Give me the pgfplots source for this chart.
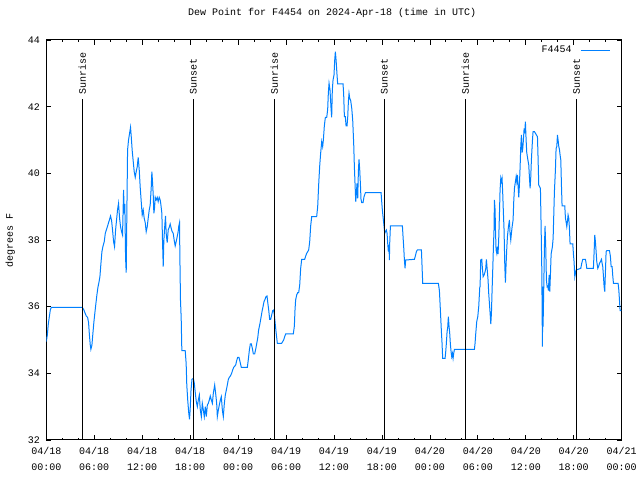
\documentclass[border=0pt]{standalone}
\usepackage{fontspec}
\setmainfont{Liberation Mono}
\usepackage{pgfplots}
\pgfplotsset{compat=1.18}
\definecolor{dew}{RGB}{0,128,255}
\begin{document}
\fontsize{10bp}{12bp}\selectfont
\begin{tikzpicture}
\useasboundingbox (-46.3bp,-40bp) rectangle (593.7bp,440bp);
\begin{axis}[
  at={(0,0)}, anchor=south west,
  scale only axis, width=575.4bp, height=400bp,
  xmin=0, xmax=72, ymin=32, ymax=44,
  xtick={0,6,...,72},
  minor x tick num=2,
  ytick={32,34,...,44},
  xtick pos=both, ytick pos=both,
  tick align=inside,
  major tick length=5bp, minor tick length=2.5bp,
  every tick/.style={black, line width=0.8bp},
  axis line style={line width=1bp},
  xticklabels={04/18\\00:00,04/18\\06:00,04/18\\12:00,04/18\\18:00,04/19\\00:00,04/19\\06:00,04/19\\12:00,04/19\\18:00,04/20\\00:00,04/20\\06:00,04/20\\12:00,04/20\\18:00,04/21\\00:00},
  xticklabel style={font=\fontsize{10bp}{16.5bp}\selectfont, align=center, yshift=-3.5bp},
  yticklabel style={font=\fontsize{10bp}{12bp}\selectfont, xshift=-3bp},
  /pgf/number format/assume math mode=true,
  title={Dew Point for F4454 on 2024-Apr-18 (time in UTC)},
  title style={at={(axis description cs:0.497,1)}, anchor=center, yshift=21bp, font=\fontsize{10bp}{12bp}\selectfont},
  ylabel={degrees F},
  every axis y label/.style={at={(axis description cs:-0.0626,0.5)}, anchor=center, rotate=90, font=\fontsize{10bp}{12bp}\selectfont},
  legend plot pos=right,
  legend style={draw=none, fill=none, at={(axis description cs:1,1)}, anchor=north east, xshift=-11.5bp, yshift=-4bp, inner sep=0pt, font=\fontsize{10bp}{12bp}\selectfont, column sep=6.5bp},
  legend image code/.code={\draw[#1] (0bp,0bp) -- (29bp,0bp);},
]
\addplot[dew, line width=1bp] table {
0.00 34.95
0.13 35.15
0.25 35.48
0.38 35.70
0.50 35.90
0.63 35.98
4.50 35.98
4.67 35.92
4.83 35.82
5.00 35.72
5.17 35.68
5.29 35.52
5.38 35.20
5.50 34.85
5.58 34.72
5.71 34.85
5.83 35.20
5.96 35.55
6.08 35.82
6.21 36.10
6.33 36.35
6.46 36.58
6.58 36.72
6.71 36.90
6.83 37.28
6.96 37.65
7.08 37.80
7.25 37.95
7.38 38.20
7.54 38.32
7.67 38.42
7.79 38.52
7.92 38.62
8.04 38.72
8.17 38.58
8.29 38.30
8.42 37.95
8.54 37.80
8.67 38.30
8.79 38.60
8.92 38.92
9.04 39.10
9.17 38.65
9.29 38.40
9.42 38.25
9.54 38.15
9.67 39.50
9.75 38.80
9.83 39.08
9.92 37.45
10.00 37.02
10.08 38.80
10.17 40.70
10.29 41.00
10.42 41.20
10.54 41.38
10.63 41.10
10.75 40.68
10.88 40.35
11.00 40.05
11.13 39.88
11.25 40.05
11.38 40.20
11.50 40.48
11.63 40.10
11.75 39.58
11.88 39.15
12.00 38.75
12.13 38.90
12.25 38.65
12.38 38.52
12.50 38.25
12.63 38.40
12.75 38.65
12.88 38.90
13.00 39.05
13.13 39.58
13.21 40.05
13.29 39.75
13.38 39.35
13.46 38.80
13.54 38.95
13.63 39.28
13.75 39.20
13.88 39.28
14.00 39.15
14.13 39.28
14.25 39.20
14.33 39.08
14.46 38.80
14.54 38.00
14.63 37.20
14.71 38.00
14.83 38.45
14.92 38.72
15.00 38.20
15.13 37.92
15.25 38.30
15.38 38.38
15.50 38.48
15.63 38.35
15.75 38.25
15.88 38.20
16.00 38.00
16.13 37.82
16.25 37.95
16.38 38.10
16.50 38.25
16.58 38.42
16.67 38.52
16.71 37.58
16.79 36.20
16.88 35.65
16.96 34.68
17.38 34.68
17.50 34.30
17.58 33.65
17.71 33.15
17.83 32.80
17.92 32.62
18.00 32.90
18.11 33.50
18.23 33.82
18.40 33.85
18.52 33.70
18.65 33.40
18.77 33.15
18.90 33.00
19.02 33.20
19.15 33.35
19.27 32.90
19.40 32.70
19.52 33.10
19.65 32.90
19.77 32.70
19.90 33.00
20.02 32.70
20.15 33.05
20.27 33.10
20.40 33.20
20.52 33.32
20.65 33.20
20.78 33.10
20.90 33.40
21.07 33.65
21.19 33.40
21.32 33.10
21.40 32.70
21.53 32.90
21.65 33.05
21.78 33.20
21.90 33.30
22.03 32.90
22.15 32.70
22.28 33.10
22.40 33.35
22.53 33.50
22.65 33.65
22.78 33.82
22.90 33.88
23.03 33.92
23.19 34.00
23.32 34.10
23.45 34.18
23.70 34.25
23.82 34.38
23.95 34.48
24.11 34.48
24.24 34.35
24.40 34.18
25.16 34.18
25.28 34.42
25.41 34.70
25.53 34.88
25.66 34.88
25.78 34.75
25.91 34.58
26.07 34.58
26.20 34.72
26.32 34.88
26.45 35.05
26.57 35.30
26.74 35.50
26.87 35.68
26.99 35.85
27.12 36.00
27.24 36.15
27.37 36.22
27.49 36.30
27.62 36.32
27.70 36.15
27.83 35.90
27.95 35.62
28.08 35.62
28.20 35.75
28.33 35.88
28.45 35.90
28.54 35.75
28.66 35.45
28.79 35.15
28.91 34.90
29.45 34.90
29.70 35.00
29.83 35.10
29.95 35.18
30.91 35.18
31.04 35.42
31.12 35.90
31.20 36.20
31.33 36.35
31.46 36.42
31.58 36.42
31.71 36.65
31.83 37.15
31.96 37.42
32.33 37.42
32.46 37.52
32.58 37.60
32.71 37.65
32.83 37.70
32.96 37.95
33.08 38.42
33.21 38.70
33.83 38.70
33.96 39.00
34.08 39.65
34.21 40.22
34.33 40.60
34.46 40.95
34.58 40.80
34.67 41.00
34.79 41.42
34.92 41.68
35.09 41.68
35.21 41.92
35.29 42.40
35.38 42.70
35.50 42.50
35.63 41.95
35.71 41.68
35.79 42.50
35.88 42.80
36.00 42.95
36.09 43.40
36.17 43.65
36.26 43.40
36.38 42.95
36.46 42.68
37.13 42.68
37.21 42.38
37.30 41.70
37.42 41.70
37.51 41.42
37.63 41.42
37.72 41.70
37.80 42.15
37.88 42.40
37.97 42.25
38.09 42.18
38.22 41.95
38.34 41.60
38.47 40.85
38.55 40.20
38.63 39.70
38.72 39.15
38.80 39.40
38.88 39.70
38.97 39.25
39.05 40.05
39.13 40.42
39.22 40.10
39.30 39.70
39.38 39.22
39.47 39.12
39.63 39.12
39.76 39.30
39.93 39.42
41.89 39.42
41.97 39.15
42.05 38.90
42.18 38.60
42.26 38.42
42.35 38.20
42.43 38.25
42.55 38.30
42.64 38.20
42.72 37.90
42.80 37.65
42.89 37.85
42.93 37.40
42.97 37.90
43.06 38.42
44.56 38.42
44.64 38.10
44.72 37.80
44.81 37.40
44.89 37.15
44.97 37.40
46.06 37.42
46.18 37.52
46.31 37.65
46.43 37.70
46.94 37.70
47.02 37.20
47.10 36.70
49.06 36.70
49.19 36.48
49.27 36.10
49.35 35.70
49.44 35.25
49.52 34.90
49.60 34.45
49.90 34.45
49.98 34.65
50.06 34.90
50.15 35.25
50.23 35.38
50.31 35.70
50.40 35.40
50.48 35.20
50.56 34.88
50.65 34.65
50.73 34.50
50.82 34.60
50.90 34.45
50.98 34.60
51.07 34.72
53.57 34.72
53.65 34.90
53.74 35.20
53.86 35.55
53.99 35.70
54.11 36.00
54.24 36.58
54.28 36.60
54.36 37.40
54.49 37.42
54.57 37.15
54.66 36.90
54.78 36.95
54.91 37.05
54.99 37.15
55.07 37.42
55.16 37.15
55.28 36.80
55.36 36.40
55.53 35.82
55.62 35.48
55.70 35.80
55.78 36.48
55.87 37.15
55.95 37.80
56.03 38.35
56.07 39.20
56.16 38.90
56.20 38.35
56.28 37.70
56.37 37.60
56.45 37.80
56.53 37.58
56.62 38.10
56.70 38.75
56.78 39.50
56.87 39.85
56.95 39.75
57.03 39.85
57.12 39.35
57.20 38.80
57.28 38.30
57.37 37.25
57.45 36.72
57.53 37.25
57.62 37.75
57.70 38.10
57.83 38.40
57.95 38.60
58.03 38.20
58.12 38.00
58.20 38.20
58.29 38.40
58.41 38.60
58.49 39.15
58.58 39.55
58.70 39.75
58.79 39.90
58.87 39.75
58.95 39.95
59.04 39.60
59.12 39.28
59.20 39.65
59.29 40.20
59.37 40.80
59.45 41.15
59.54 40.62
59.62 40.75
59.70 41.00
59.79 41.35
59.87 41.20
59.95 41.55
60.04 41.00
60.12 40.62
60.25 40.42
60.37 40.25
60.45 39.90
60.54 39.55
60.62 39.88
60.70 40.40
60.83 40.98
60.91 41.25
61.08 41.25
61.21 41.20
61.33 41.15
61.46 41.10
61.54 40.42
61.62 39.65
61.83 39.55
61.91 38.50
62.00 37.15
62.08 34.80
62.12 36.60
62.16 35.40
62.25 36.60
62.33 37.80
62.41 38.42
62.50 37.75
62.58 36.80
62.67 36.60
62.75 36.62
62.83 36.48
62.92 36.95
63.00 36.45
63.08 36.95
63.17 37.58
63.33 37.80
63.42 38.05
63.50 38.75
63.58 39.45
63.71 40.12
63.79 40.75
63.88 40.80
63.96 41.15
64.04 41.00
64.13 40.80
64.21 40.72
64.29 40.55
64.38 40.40
64.46 39.65
64.54 39.02
64.88 39.02
64.96 38.65
65.04 38.55
65.13 38.40
65.21 38.55
65.29 38.75
65.38 38.65
65.46 38.35
65.54 37.88
65.88 37.88
65.96 37.58
66.04 37.35
66.13 36.90
66.21 37.00
66.30 37.10
66.88 37.15
67.00 37.30
67.13 37.42
67.46 37.42
67.55 37.30
67.63 37.15
68.46 37.15
68.55 37.65
68.63 38.15
68.71 37.95
68.80 37.65
68.88 37.35
69.01 37.15
69.13 37.22
69.22 37.30
69.34 37.35
69.47 37.42
69.55 37.30
69.63 37.20
69.72 36.90
69.80 36.60
69.88 36.45
69.97 37.08
70.05 37.65
70.13 37.68
70.47 37.68
70.59 37.50
70.68 37.20
70.80 37.20
70.89 36.90
70.97 36.70
71.55 36.70
71.64 36.50
71.72 36.20
71.80 35.88
71.97 35.88
};
\addlegendentry{F4454}
\addplot[black, line width=1bp, forget plot] coordinates {(4.5,32) (4.5,42.23)};
\addplot[black, line width=1bp, forget plot] coordinates {(18.4,32) (18.4,42.23)};
\addplot[black, line width=1bp, forget plot] coordinates {(28.54,32) (28.54,42.23)};
\addplot[black, line width=1bp, forget plot] coordinates {(42.3,32) (42.3,42.23)};
\addplot[black, line width=1bp, forget plot] coordinates {(52.44,32) (52.44,42.23)};
\addplot[black, line width=1bp, forget plot] coordinates {(66.34,32) (66.34,42.23)};
\node[rotate=90, anchor=west, inner sep=2pt] at (axis cs:4.5,42.3) {Sunrise};
\node[rotate=90, anchor=west, inner sep=2pt] at (axis cs:18.4,42.3) {Sunset};
\node[rotate=90, anchor=west, inner sep=2pt] at (axis cs:28.54,42.3) {Sunrise};
\node[rotate=90, anchor=west, inner sep=2pt] at (axis cs:42.3,42.3) {Sunset};
\node[rotate=90, anchor=west, inner sep=2pt] at (axis cs:52.44,42.3) {Sunrise};
\node[rotate=90, anchor=west, inner sep=2pt] at (axis cs:66.34,42.3) {Sunset};
\end{axis}
\end{tikzpicture}
\end{document}
